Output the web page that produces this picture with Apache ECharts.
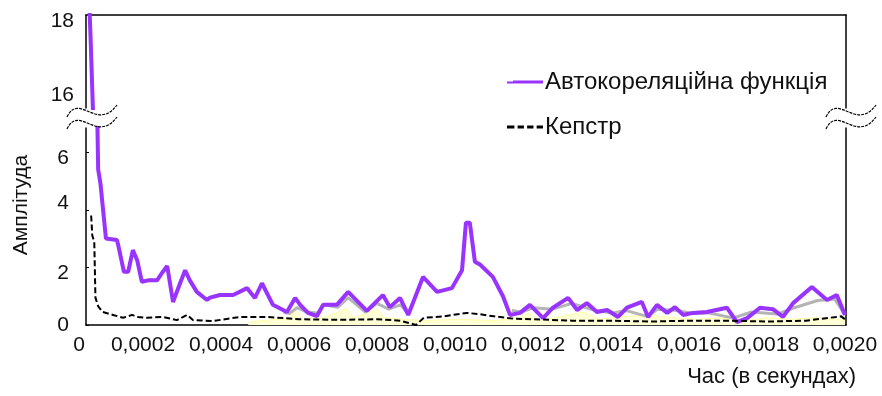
<!DOCTYPE html>
<html>
<head>
<meta charset="utf-8">
<script src="https://cdn.jsdelivr.net/npm/echarts@6/dist/echarts.min.js"></script>
<style>
  html, body { margin: 0; padding: 0; background: #fff; }
  #chart { width: 882px; height: 396px; }
</style>
</head>
<body>
<div id="chart"></div>
<script>
// Time axis is kept in microseconds; labels are printed in seconds.
const xTickValues = [200, 400, 600, 800, 1000, 1200, 1400, 1600, 1800, 2000];
const lowerTickValues = [0, 2, 4, 6];
const upperTickValues = [16, 18];

// Autocorrelation function (time, µs / amplitude)
const acfTime = [60, 66, 69, 72, 83, 85, 91, 95, 105, 133, 136, 151, 162, 174, 185, 197, 213, 236, 251, 262,
  277, 295, 308, 320, 338, 364, 372, 397, 431, 467, 487, 505, 533, 569, 590, 603, 623, 646, 662, 697,
  726, 774, 815, 833, 859, 880, 918, 954, 992, 1018, 1028, 1038, 1051, 1064, 1097, 1123, 1141, 1167, 1192, 1226,
  1251, 1290, 1313, 1338, 1364, 1390, 1418, 1441, 1479, 1495, 1518, 1544, 1564, 1585, 1610, 1646, 1697, 1723, 1749, 1782,
  1815, 1841, 1867, 1915, 1954, 1979, 2000];
const acfValue = [18.9, 17.3, 16.4, 15.5, 7.0, 5.4, 4.9, 4.35, 3.0, 2.95, 2.8, 1.85, 1.85, 2.6, 2.25, 1.5, 1.55, 1.55, 1.85, 2.05,
  0.8, 1.45, 1.9, 1.55, 1.15, 0.87, 0.95, 1.04, 1.04, 1.28, 0.94, 1.45, 0.7, 0.45, 0.94, 0.7, 0.42, 0.31, 0.7, 0.7,
  1.15, 0.49, 1.04, 0.62, 0.94, 0.35, 1.67, 1.15, 1.28, 1.9, 3.55, 3.55, 2.2, 2.1, 1.67, 1.0, 0.35, 0.42, 0.7, 0.24,
  0.6, 0.94, 0.52, 0.76, 0.45, 0.52, 0.28, 0.6, 0.8, 0.28, 0.7, 0.42, 0.62, 0.35, 0.42, 0.45, 0.6, 0.1, 0.24, 0.6,
  0.55, 0.28, 0.76, 1.32, 0.87, 1.04, 0.35];

// Cepstrum
const cepTime = [67, 70, 75, 78, 85, 97, 123, 149, 172, 185, 210, 251, 287, 313, 328, 380, 449, 518, 600, 700,
  800, 860, 900, 920, 970, 1030, 1060, 1100, 1150, 1200, 1300, 1400, 1500, 1600, 1700, 1800, 1900, 1960, 1990, 2000];
const cepValue = [3.8, 3.1, 2.9, 0.95, 0.65, 0.45, 0.35, 0.25, 0.35, 0.28, 0.25, 0.28, 0.17, 0.35, 0.17, 0.14, 0.28, 0.28, 0.2, 0.18,
  0.2, 0.15, 0.0, 0.25, 0.3, 0.42, 0.38, 0.3, 0.22, 0.2, 0.15, 0.15, 0.12, 0.15, 0.15, 0.12, 0.15, 0.25, 0.3, 0.2];

// Secondary grey trace lying mostly under the autocorrelation curve (null = gap)
const greyTime = [560, 575, 595, 620, 648, 662, 700, 726, 770, 800, 830, 860, 880, 900, 1140, 1146, 1170, 1200, 1250, 1300,
  1360, 1405, 1440, 1492, 1520, 1570, 1610, 1650, 1713, 1760, 1826, 1870, 1930, 1974, 2000];
const greyValue = [0.45, 0.4, 0.6, 0.45, 0.42, 0.7, 0.62, 0.95, 0.45, 0.75, 0.55, 0.7, 0.4, null, null, 0.5, 0.45, 0.6, 0.55, 0.75,
  0.5, 0.42, 0.5, 0.3, 0.55, 0.5, 0.4, 0.42, 0.24, 0.45, 0.38, 0.6, 0.85, 0.9, 0.35];

// Pale filled trace near the baseline
const paleTime = [470, 540, 570, 590, 610, 660, 700, 720, 740, 780, 800, 820, 870, 920, 1000, 1100, 1160, 1190, 1220, 1290,
  1330, 1370, 1440, 1500, 1560, 1620, 1680, 1740, 1800, 1860, 1920, 1980, 2000];
const paleValue = [0.1, 0.2, 0.2, 0.5, 0.2, 0.25, 0.45, 0.6, 0.25, 0.45, 0.55, 0.25, 0.2, 0.15, 0.2, 0.15, 0.25, 0.4, 0.15, 0.35,
  0.45, 0.2, 0.3, 0.35, 0.25, 0.2, 0.25, 0.15, 0.25, 0.2, 0.25, 0.2, 0.15];

const zip = (t, v) => t.map((x, i) => [x, v[i] === null ? '-' : v[i]]);

const X_MIN = 53.8, X_MAX = 2002.6;
const PLOT_LEFT = 86, PLOT_RIGHT = 36;
const UP_TOP = 15, UP_H = 93, LOW_TOP = 128, LOW_H = 197;
const UP_MIN = 15.675, UP_MAX = 18, LOW_MAX = 6.84;

const FONT = '"Liberation Sans", Arial, sans-serif';
const TXT = '#111';
const ACF_NAME = 'Автокореляційна функція';
const CEP_NAME = 'Кепстр';
const PURPLE = '#9933ff';

const fmtSec = v => (v / 1e6).toFixed(4).replace('.', ',');

const chart = echarts.init(document.getElementById('chart'), null, { renderer: 'canvas' });

const frameAxis = { lineStyle: { color: '#000', width: 1.5 } };

// Wavy "break" marks drawn where the value axis is interrupted
function breakMarks(cx, cy) {
  const curve = (dy) => ({
    type: 'bezierCurve',
    shape: { x1: cx - 22, y1: cy + dy + 5, cpx1: cx - 10, cpy1: cy + dy - 20, cpx2: cx + 8, cpy2: cy + dy + 20, x2: cx + 28, y2: cy + dy - 7 },
    style: { stroke: '#000', lineWidth: 1.2, fill: null, lineDash: [3, 1] },
    z: 20
  });
  return [curve(-6), curve(6)];
}

// Legend glyphs: solid stroke for the autocorrelation, dashes for the cepstrum
const ICON_SOLID = 'path://M0,1h6v2h-6z M6,0h30v3h-30z';
const ICON_DASH = 'path://M0,0h7v3h-7z M10,0h6v3h-6z M19,0h6v3h-6z M28,0h6v3h-6z';

const option = {
  animation: false,
  backgroundColor: '#fff',
  grid: [
    { left: PLOT_LEFT, right: PLOT_RIGHT, top: UP_TOP, height: UP_H },
    { left: PLOT_LEFT, right: PLOT_RIGHT, top: LOW_TOP, height: LOW_H }
  ],
  xAxis: [
    {
      gridIndex: 0, type: 'value', min: X_MIN, max: X_MAX, position: 'top',
      axisLine: { show: true, ...frameAxis }, axisTick: { show: false }, axisLabel: { show: false }, splitLine: { show: false }
    },
    {
      gridIndex: 1, type: 'value', min: X_MIN, max: X_MAX, position: 'bottom',
      axisLine: { show: true, onZero: false, ...frameAxis }, axisTick: { show: false }, splitLine: { show: false },
      axisLabel: {
        customValues: [X_MIN].concat(xTickValues),
        formatter: v => (v === X_MIN ? '{z|0}' : fmtSec(v)),
        rich: { z: { fontSize: 21, fontFamily: FONT, color: TXT, padding: [0, 14, 0, 0] } },
        fontSize: 21, fontFamily: FONT, color: TXT, margin: 10, showMinLabel: true, showMaxLabel: true
      }
    }
  ],
  yAxis: [
    {
      gridIndex: 0, type: 'value', min: UP_MIN, max: UP_MAX,
      axisLine: { show: true, ...frameAxis }, axisTick: { show: false }, splitLine: { show: false },
      axisLabel: {
        customValues: upperTickValues,
        formatter: v => (v === 18 ? '{d|18}' : '{n|' + v + '}'),
        rich: {
          d: { fontSize: 21, fontFamily: FONT, color: TXT, padding: [12, 0, 0, 0] },
          n: { fontSize: 21, fontFamily: FONT, color: TXT }
        },
        fontSize: 21, fontFamily: FONT, color: TXT, margin: 12
      }
    },
    {
      gridIndex: 0, type: 'value', min: UP_MIN, max: UP_MAX, position: 'right',
      axisLine: { show: true, ...frameAxis }, axisTick: { show: false }, axisLabel: { show: false }, splitLine: { show: false }
    },
    {
      gridIndex: 1, type: 'value', min: 0, max: LOW_MAX,
      axisLine: { show: true, ...frameAxis }, splitLine: { show: false },
      axisTick: { show: true, inside: true, length: 3, customValues: lowerTickValues, lineStyle: { color: '#000' } },
      axisLabel: {
        customValues: lowerTickValues,
        formatter: v => '{o' + v + '|' + v + '}',
        rich: {
          o0: { fontSize: 21, fontFamily: FONT, color: TXT },
          o2: { fontSize: 21, fontFamily: FONT, color: TXT, padding: [12, 0, 0, 0] },
          o4: { fontSize: 21, fontFamily: FONT, color: TXT, padding: [0, 0, 14, 0] },
          o6: { fontSize: 21, fontFamily: FONT, color: TXT, padding: [12, 0, 0, 0] }
        },
        fontSize: 21, fontFamily: FONT, color: TXT, margin: 17
      }
    },
    {
      gridIndex: 1, type: 'value', min: 0, max: LOW_MAX, position: 'right',
      axisLine: { show: true, ...frameAxis }, axisTick: { show: false }, axisLabel: { show: false }, splitLine: { show: false }
    }
  ],
  legend: {
    data: [
      { name: ACF_NAME, icon: ICON_SOLID, itemStyle: { color: PURPLE } },
      { name: CEP_NAME, icon: ICON_DASH, itemStyle: { color: '#000' } }
    ],
    orient: 'vertical',
    left: 502, top: 65,
    itemWidth: 36, itemHeight: 4, itemGap: 21,
    textStyle: { fontSize: 24, fontFamily: FONT, color: TXT, padding: [0, 0, 0, -3] },
    selectedMode: false
  },
  series: [
    {
      name: 'pale', type: 'line', xAxisIndex: 1, yAxisIndex: 2, data: zip(paleTime, paleValue),
      symbol: 'none', lineStyle: { color: '#ffffa8', width: 1 }, areaStyle: { color: '#ffffd6', opacity: 1 }, z: 1, silent: true
    },
    {
      name: 'grey', type: 'line', xAxisIndex: 1, yAxisIndex: 2, data: zip(greyTime, greyValue),
      symbol: 'none', connectNulls: false, lineStyle: { color: '#b4b4b4', width: 3 }, z: 2, silent: true
    },
    {
      name: ACF_NAME, type: 'line', xAxisIndex: 0, yAxisIndex: 0, data: zip(acfTime, acfValue),
      symbol: 'none', clip: true, lineStyle: { color: PURPLE, width: 4 }, itemStyle: { color: PURPLE }, z: 4
    },
    {
      name: ACF_NAME, type: 'line', xAxisIndex: 1, yAxisIndex: 2, data: zip(acfTime, acfValue),
      symbol: 'none', clip: true, lineStyle: { color: PURPLE, width: 4 }, itemStyle: { color: PURPLE }, z: 4
    },
    {
      name: CEP_NAME, type: 'line', xAxisIndex: 1, yAxisIndex: 2, data: zip(cepTime, cepValue),
      symbol: 'none', clip: true, lineStyle: { color: '#000', width: 2, type: [6, 3] }, itemStyle: { color: '#000' }, z: 5
    }
  ],
  graphic: [
    {
      type: 'text',
      rotation: Math.PI / 2,
      style: { text: 'Амплітуда', font: '21px ' + FONT, fill: TXT, textAlign: 'center', textVerticalAlign: 'middle' },
      x: 21, y: 205
    },
    {
      type: 'text', right: 26, top: 366,
      style: { text: 'Час (в секундах)', font: '22px ' + FONT, fill: TXT }
    },
    ...breakMarks(PLOT_LEFT + 3, 118),
    ...breakMarks(882 - PLOT_RIGHT + 2, 118)
  ]
};

chart.setOption(option);
</script>
</body>
</html>
